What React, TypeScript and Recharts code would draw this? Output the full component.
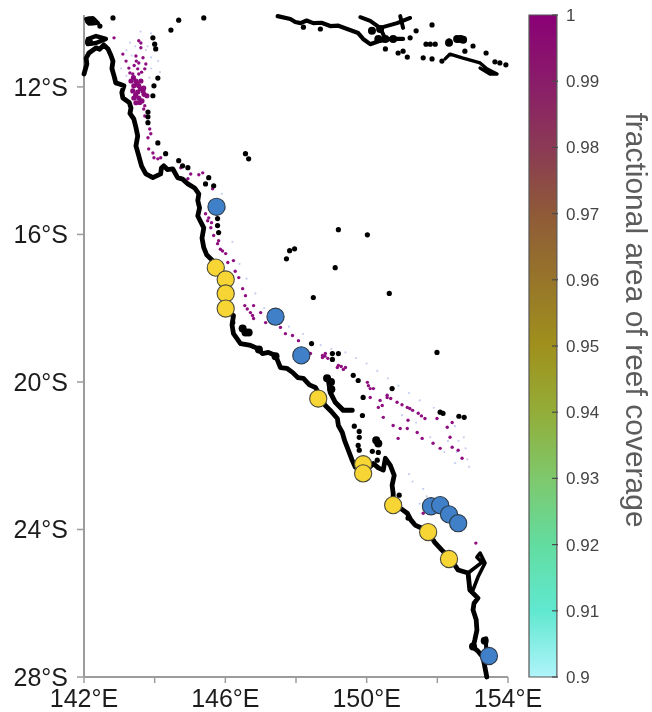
import React from "react";
import { Bar, ComposedChart, Scatter, ScatterChart, XAxis, YAxis } from "recharts";

type LonLat = [number, number];

// positions are [longitude E, latitude S]
const MAINLAND: LonLat[] = [
  [142.0, 11.65], [142.08, 11.38], [142.06, 11.22], [142.14, 11.08], [142.34, 10.94], [142.44, 10.98], [142.56, 10.86],
  [142.68, 10.97], [142.76, 11.14], [142.82, 11.3], [142.79, 11.5], [142.85, 11.7], [142.9, 11.89], [143.02, 11.93], [143.13, 11.97],
  [143.07, 12.15], [143.1, 12.3], [143.28, 12.42], [143.33, 12.57], [143.3, 12.72], [143.41, 12.87], [143.47, 13.1], [143.52, 13.33],
  [143.47, 13.6], [143.55, 13.87], [143.63, 14.15], [143.75, 14.36], [143.95, 14.46], [144.17, 14.36], [144.19, 14.2],
  [144.26, 14.14], [144.36, 14.24], [144.51, 14.22], [144.65, 14.46], [144.79, 14.5], [144.94, 14.63], [145.13, 14.74], [145.25, 14.9],
  [145.22, 15.08], [145.27, 15.28], [145.22, 15.5], [145.39, 15.82], [145.34, 16.1], [145.39, 16.36], [145.47, 16.55], [145.64, 16.71],
  [145.85, 17.1], [146.01, 17.52], [146.01, 18.06], [146.23, 18.2], [146.19, 18.45], [146.23, 18.69], [146.43, 18.96], [146.68, 19.0],
  [146.91, 19.09], [147.05, 19.23], [147.22, 19.2], [147.42, 19.28], [147.5, 19.47], [147.56, 19.61], [147.74, 19.63], [147.9, 19.74],
  [148.05, 19.88], [148.21, 19.9], [148.38, 20.08], [148.55, 20.15], [148.83, 20.64], [149.0, 20.8], [149.17, 20.99], [149.2, 21.18], [149.31, 21.37],
  [149.38, 21.6], [149.48, 21.85], [149.58, 22.1], [149.68, 22.31], [149.9, 22.48], [150.19, 22.21], [150.33, 22.33], [150.47, 22.39],
  [150.53, 22.07], [150.67, 22.26], [150.78, 22.53], [150.72, 22.8], [150.75, 23.02], [150.75, 23.34], [150.95, 23.42], [151.15, 23.56],
  [151.25, 23.74], [151.37, 23.88], [151.55, 23.96], [151.74, 24.07], [151.92, 24.34], [152.13, 24.56], [152.36, 24.78], [152.59, 25.1], [152.87, 25.18],
  [152.92, 25.64], [153.15, 25.86], [153.04, 26.0], [153.01, 26.18], [153.1, 26.45], [153.12, 26.73], [153.06, 27.0], [153.01, 27.19], [153.15, 27.3], [153.29, 27.46],
  [153.34, 27.7], [153.4, 28.0],
];
const FRASER: LonLat[] = [
  [153.01, 25.64], [153.15, 25.29], [153.35, 24.91], [153.21, 24.64], [153.12, 24.75], [153.26, 24.89],
  [152.87, 25.18], [152.92, 25.64],
];
const MORETON: LonLat[] = [[153.38, 26.95], [153.38, 27.3]];
const SHOALWATER: LonLat[] = [[148.92, 19.96], [148.97, 20.28], [149.11, 20.55], [149.34, 20.77], [149.59, 20.77]];
const CAPE_RING_A: LonLat[] = [[142.06, 10.16], [142.25, 10.13], [142.4, 10.27], [142.14, 10.29], [142.06, 10.16]];
const CAPE_RING_B: LonLat[] = [[142.11, 10.7], [142.34, 10.62], [142.62, 10.7], [142.34, 10.81], [142.11, 10.84], [142.11, 10.7]];
const PNG_SOUTH: LonLat[] = [
  [147.48, 10.08], [147.84, 10.16], [147.98, 10.24], [148.13, 10.27], [148.3, 10.2], [148.49, 10.27], [148.72, 10.26], [148.97, 10.35], [149.2, 10.34], [149.45, 10.43],
  [149.76, 10.54], [149.9, 10.7], [150.1, 10.84], [150.38, 10.75], [150.67, 10.7], [151.03, 10.7],
];
const PNG_NORTH: LonLat[] = [[149.82, 10.11], [150.1, 10.21], [150.38, 10.4], [150.86, 10.27], [151.23, 10.13]];
const PNG_SPUR_A: LonLat[] = [[150.38, 10.4], [150.53, 10.7]];
const PNG_SPUR_B: LonLat[] = [[150.95, 10.08], [151.03, 10.4]];
const ROSSEL: LonLat[] = [
  [152.22, 11.24], [152.36, 11.11], [152.73, 11.22], [153.21, 11.35], [153.4, 11.51], [153.69, 11.65],
  [153.49, 11.65], [153.21, 11.49],
];

const ISLETS: LonLat[] = [
  [142.45, 10.35], [142.82, 10.13], [144.68, 10.19], [145.39, 10.13], [144.46, 10.46], [143.95, 10.67],
  [144.0, 10.84], [144.03, 10.97], [144.09, 11.76], [143.98, 11.97], [143.95, 12.24], [143.81, 12.68],
  [143.81, 12.81], [143.81, 12.97], [144.09, 13.52], [144.31, 13.81], [144.68, 14.0], [144.79, 14.14],
  [144.94, 14.19], [145.53, 14.46], [145.44, 14.63], [145.67, 14.68], [146.57, 13.81], [146.66, 13.95],
  [145.78, 15.57], [145.78, 15.76], [145.81, 15.95], [149.2, 15.87], [150.02, 16.01], [147.96, 16.39],
  [147.82, 16.44], [147.73, 16.66], [149.11, 16.9], [148.49, 17.71], [150.64, 17.6], [148.44, 18.96],
  [149.03, 19.23], [149.2, 19.23], [149.03, 19.39], [149.62, 19.82], [149.76, 19.96], [149.9, 20.42],
  [149.88, 20.91], [146.21, 18.39], [151.99, 19.2],
  [150.72, 20.18], [152.08, 20.82], [152.16, 20.85], [152.61, 20.93], [152.76, 20.96], [149.65, 21.2],
  [149.79, 21.34], [149.79, 21.5], [149.76, 21.72], [149.79, 21.85],
  [150.16, 21.88], [150.33, 21.91], [150.3, 22.12], [150.92, 23.07], [151.17, 23.69], [148.21, 10.38],
  [148.69, 10.43], [151.4, 10.48], [151.85, 10.32], [151.23, 10.67], [150.53, 10.97], [150.89, 11.08],
  [151.03, 11.03], [151.15, 11.19], [151.68, 10.84], [151.8, 10.84], [151.94, 10.84], [151.6, 11.21],
  [151.85, 11.24], [152.13, 11.3], [152.33, 10.75], [153.01, 10.89], [152.78, 11.03], [153.38, 11.08], [153.63, 11.32], [153.77, 11.35], [153.94, 11.4],
];
const LARGE_ISLETS: LonLat[] = [
  [146.57, 18.66], [146.49, 18.55], [146.66, 18.66], [148.88, 19.9], [148.99, 20.0], [149.0, 20.2], [150.27, 21.58],
  [150.33, 21.67], [146.95, 19.12], [147.42, 19.3], [150.38, 10.43], [150.15, 10.48], [150.33, 10.7], [150.53, 10.7],
  [150.75, 10.7], [152.56, 10.7], [152.66, 10.7], [152.73, 10.72], [152.33, 10.8], [153.01, 27.17], [153.34, 27.02],
  [142.14, 10.2], [142.25, 10.22], [142.14, 10.78],
];

const REEF_DENSE: LonLat[] = [
  [143.33, 11.84], [143.47, 11.84], [143.61, 11.84], [143.41, 11.97], [143.55, 11.97], [143.69, 12.03],
  [143.38, 12.11], [143.52, 12.14], [143.67, 12.11], [143.78, 12.24], [143.41, 12.3], [143.55, 12.3],
  [143.47, 12.43], [143.64, 12.38], [143.4, 11.75], [143.5, 11.92], [143.6, 12.05], [143.46, 12.22], [143.7, 12.2], [143.58, 12.42],
];
const REEF_PATCHES: LonLat[] = [
  [143.55, 10.75], [143.61, 10.94], [143.61, 10.81], [143.1, 11.11], [143.47, 11.16], [143.67, 11.21],
  [143.19, 11.3], [143.55, 11.35], [143.75, 11.38], [143.27, 11.49], [143.52, 11.51], [143.72, 11.51],
  [143.38, 11.65], [143.55, 11.65], [142.85, 10.67], [144.46, 10.46], [143.72, 12.51], [143.69, 12.6],
  [143.72, 12.79], [143.86, 13.14], [143.81, 13.38], [143.89, 13.27], [143.83, 13.68], [143.95, 13.79],
  [144.09, 13.95], [143.98, 13.92], [144.17, 13.92], [144.74, 14.19], [145.02, 14.36], [145.25, 14.38],
  [145.36, 14.33], [144.94, 14.49], [145.64, 14.76], [145.44, 15.44], [145.53, 15.55], [145.61, 15.68],
  [145.5, 15.63], [145.59, 15.82], [145.67, 16.03], [145.78, 16.25], [145.81, 16.17], [146.01, 16.52],
  [146.07, 16.76], [146.23, 16.71], [146.38, 17.17], [146.49, 17.47], [146.57, 17.66], [146.55, 17.93],
  [146.71, 18.12], [146.8, 18.28], [146.8, 17.93], [147.0, 18.12], [147.14, 18.39], [147.56, 18.52],
  [147.7, 18.69], [147.9, 18.74], [148.07, 18.88], [148.41, 19.23], [148.75, 19.28], [148.83, 19.23],
  [148.75, 19.34], [149.17, 19.61], [149.4, 19.61], [149.2, 19.55], [150.02, 20.01], [150.1, 20.18],
  [150.19, 20.18], [150.1, 20.42], [150.58, 20.42], [150.58, 20.36], [150.86, 20.55], [151.0, 20.62],
  [151.15, 20.69], [151.3, 20.77], [151.46, 20.85], [151.65, 20.99], [150.38, 20.5], [150.44, 20.64],
  [150.33, 20.69], [150.47, 20.96], [150.75, 21.18], [150.95, 21.26], [151.17, 21.04], [151.15, 21.26],
  [151.43, 21.37], [151.57, 21.53], [150.89, 21.53], [151.88, 21.66], [152.08, 21.8], [152.36, 21.5],
  [152.42, 21.77], [151.99, 20.99], [152.42, 21.1], [152.28, 21.23], [152.59, 21.85], [152.7, 22.07],
  [151.6, 23.56], [153.09, 24.37], [143.42, 11.42], [143.63, 11.6], [143.3, 11.62], [143.48, 11.3], [145.86, 16.4],
  [145.92, 16.45], [146.28, 17.0], [146.62, 18.02], [146.77, 18.2], [148.82, 19.3], [148.9, 19.36], [149.28, 19.58],
  [149.34, 19.66], [150.05, 20.1], [150.68, 20.45], [151.22, 20.72], [151.55, 20.92],
];
const REEF_SPARSE: LonLat[] = [
  [143.6, 10.5], [143.9, 10.55], [143.3, 10.8], [143.8, 10.9], [144.0, 11.0], [143.2, 11.0],
  [143.9, 11.2], [144.1, 11.3], [143.05, 11.5], [143.9, 11.5], [144.15, 11.6], [143.2, 11.7],
  [143.85, 11.75], [143.35, 11.15], [143.75, 11.0], [143.45, 10.9], [145.9, 14.9], [146.0, 15.3],
  [146.2, 16.2], [146.4, 16.8], [146.6, 17.2], [146.85, 17.6], [147.1, 18.0], [147.4, 18.2],
  [147.8, 18.5], [148.2, 18.7], [148.7, 19.0], [149.0, 19.1], [149.4, 19.2], [149.7, 19.35],
  [150.0, 19.5], [150.3, 19.7], [150.6, 19.9], [150.9, 20.1], [151.2, 20.3], [151.5, 20.5],
  [151.9, 20.7], [152.2, 20.9], [152.5, 21.2], [152.75, 21.5], [152.8, 21.8], [152.85, 22.1],
  [152.9, 22.3], [152.5, 22.2], [152.2, 21.9], [151.8, 21.5], [151.4, 21.1], [151.0, 20.9],
  [152.6, 21.6], [152.3, 21.6], [152.55, 21.9], [151.3, 22.7], [151.6, 22.9], [151.7, 23.1],
  [151.5, 23.3], [151.2, 22.5],
];

const BLUE_SITES: LonLat[] = [
  [145.75, 15.25], [147.42, 18.23], [148.15, 19.28], [151.82, 23.37], [152.08, 23.34], [152.33, 23.59],
  [152.59, 23.83], [153.46, 27.43],
];
const YELLOW_SITES: LonLat[] = [
  [145.73, 16.9], [146.01, 17.22], [146.01, 17.6], [146.01, 18.01], [148.63, 20.45], [149.9, 22.23],
  [149.9, 22.48], [150.75, 23.34], [151.74, 24.07], [152.33, 24.8],
];

const LON_TICKS = [142, 144, 146, 148, 150, 152, 154];
const LON_LABELS = [142, 146, 150, 154];
const LAT_TICKS = [-12, -16, -20, -24, -28];
const LAT_DOMAIN = [-28, -10.05];

const COLOR_TICKS = [0.9, 0.91, 0.92, 0.93, 0.94, 0.95, 0.96, 0.97, 0.98, 0.99, 1];
const COLOR_STOPS: [string, string][] = [
  ["0%", "#8a0076"], ["10%", "#8a1c6a"], ["20%", "#8b3a55"], ["30%", "#8f5a38"], ["40%", "#97752a"],
  ["50%", "#a0901c"], ["60%", "#93ad38"], ["70%", "#7ec86c"], ["80%", "#62dca0"], ["90%", "#60e8d0"],
  ["100%", "#b0f4fa"],
];
const COLOR_RANGE = [{ name: "coverage", range: [0.9, 1] }];

const AXIS_GREY = "#9c9c9c";
const FONT = '"Liberation Sans", Arial, sans-serif';

const toPoints = (list: LonLat[]) => list.map(([lon, lat]) => ({ lon, lat: -lat }));
const noDot = () => <g />;
const dot = (r: number, fill: string, stroke = "none") => (p: any) => (
  <circle cx={p.cx} cy={p.cy} r={r} fill={fill} stroke={stroke} strokeWidth={stroke === "none" ? 0 : 1.1} />
);

const COASTS: [LonLat[], number][] = [
  [MAINLAND, 4.8],
  [FRASER, 3.6],
  [MORETON, 4],
  [SHOALWATER, 5],
  [CAPE_RING_A, 4],
  [CAPE_RING_B, 4.4],
  [PNG_SOUTH, 4.2],
  [PNG_NORTH, 4],
  [PNG_SPUR_A, 4],
  [PNG_SPUR_B, 4],
  [ROSSEL, 3.4],
];

export default function App() {
  const labelStyle = { fontFamily: FONT, fontSize: 25, fill: "#1c1c1c" };
  return (
    <div style={{ position: "absolute", left: 0, top: 0, width: 652, height: 712, background: "#fff", filter: "blur(0.45px)" }}>
      <div style={{ position: "absolute", left: 0, top: 0 }}>
        <ScatterChart width={652} height={712} margin={{ top: 15, right: 144, bottom: 0, left: 0 }}>
          <XAxis
            type="number"
            dataKey="lon"
            domain={[142, 154]}
            ticks={LON_TICKS}
            interval={0}
            height={35}
            tickSize={6}
            tickMargin={6}
            axisLine={{ stroke: AXIS_GREY, strokeWidth: 2 }}
            tickLine={{ stroke: AXIS_GREY, strokeWidth: 1.5 }}
            tick={labelStyle}
            tickFormatter={(v: number) => (LON_LABELS.includes(v) ? `${v}°E` : "")}
          />
          <YAxis
            type="number"
            dataKey="lat"
            domain={LAT_DOMAIN}
            ticks={LAT_TICKS}
            interval={0}
            width={84}
            tickSize={7}
            tickMargin={9}
            axisLine={{ stroke: AXIS_GREY, strokeWidth: 2 }}
            tickLine={{ stroke: AXIS_GREY, strokeWidth: 1.5 }}
            tick={labelStyle}
            tickFormatter={(v: number) => `${-v}°S`}
          />
          <XAxis
            xAxisId="top"
            orientation="top"
            type="number"
            domain={[142, 154]}
            ticks={LON_TICKS}
            interval={0}
            height={0}
            tickSize={6}
            axisLine={{ stroke: AXIS_GREY, strokeWidth: 2 }}
            tickLine={{ stroke: AXIS_GREY, strokeWidth: 1.5 }}
            tickFormatter={() => ""}
          />
          <YAxis
            yAxisId="right"
            orientation="right"
            type="number"
            domain={LAT_DOMAIN}
            ticks={LAT_TICKS}
            interval={0}
            width={0}
            tickSize={7}
            axisLine={{ stroke: AXIS_GREY, strokeWidth: 2 }}
            tickLine={{ stroke: AXIS_GREY, strokeWidth: 1.5 }}
            tickFormatter={() => ""}
          />
          <Scatter data={toPoints(REEF_SPARSE)} shape={dot(1.1, "#c6cff0")} isAnimationActive={false} />
          <Scatter data={toPoints(REEF_PATCHES)} shape={dot(1.7, "#8f0f80")} isAnimationActive={false} />
          <Scatter data={toPoints(REEF_DENSE)} shape={dot(2.6, "#8a0a7c")} isAnimationActive={false} />
          {COASTS.map(([list, width], i) => (
            <Scatter
              key={i}
              data={toPoints(list)}
              line={{ stroke: "#000", strokeWidth: width, strokeLinejoin: "round", strokeLinecap: "round" }}
              shape={noDot}
              isAnimationActive={false}
            />
          ))}
          <Scatter data={toPoints(ISLETS)} shape={dot(2.6, "#000")} isAnimationActive={false} />
          <Scatter data={toPoints(LARGE_ISLETS)} shape={dot(4, "#000")} isAnimationActive={false} />
          <Scatter data={toPoints(BLUE_SITES)} shape={dot(8.6, "#3f80c8", "#2e3a48")} isAnimationActive={false} />
          <Scatter data={toPoints(YELLOW_SITES)} shape={dot(8.6, "#f6d535", "#4a4a3a")} isAnimationActive={false} />
        </ScatterChart>
      </div>
      <div style={{ position: "absolute", left: 527, top: 0 }}>
        <ComposedChart width={125} height={712} data={COLOR_RANGE} margin={{ top: 15, right: 0, bottom: 35, left: 0 }}>
          <defs>
            <linearGradient id="reefScale" x1="0" y1="0" x2="0" y2="1">
              {COLOR_STOPS.map(([offset, color]) => (
                <stop key={offset} offset={offset} stopColor={color} />
              ))}
            </linearGradient>
          </defs>
          <XAxis dataKey="name" hide />
          <YAxis
            orientation="right"
            type="number"
            domain={[0.9, 1]}
            ticks={COLOR_TICKS}
            interval={0}
            width={94}
            tickSize={-6}
            tickMargin={14}
            axisLine={false}
            tickLine={{ stroke: "#4a4a4a", strokeWidth: 1.2 }}
            tick={{ fontFamily: FONT, fontSize: 17, fill: "#444" }}
            tickFormatter={(v: number) => String(v)}
            label={{
              value: "fractional area of reef coverage",
              angle: 90,
              position: "insideRight",
              dx: -10,
              dy: -26,
              style: { fontFamily: FONT, fontSize: 30, fill: "#5c5c5c", textAnchor: "middle" },
            }}
          />
          <Bar dataKey="range" fill="url(#reefScale)" stroke="#555" strokeWidth={1.2} barSize={31} isAnimationActive={false} />
        </ComposedChart>
      </div>
    </div>
  );
}
